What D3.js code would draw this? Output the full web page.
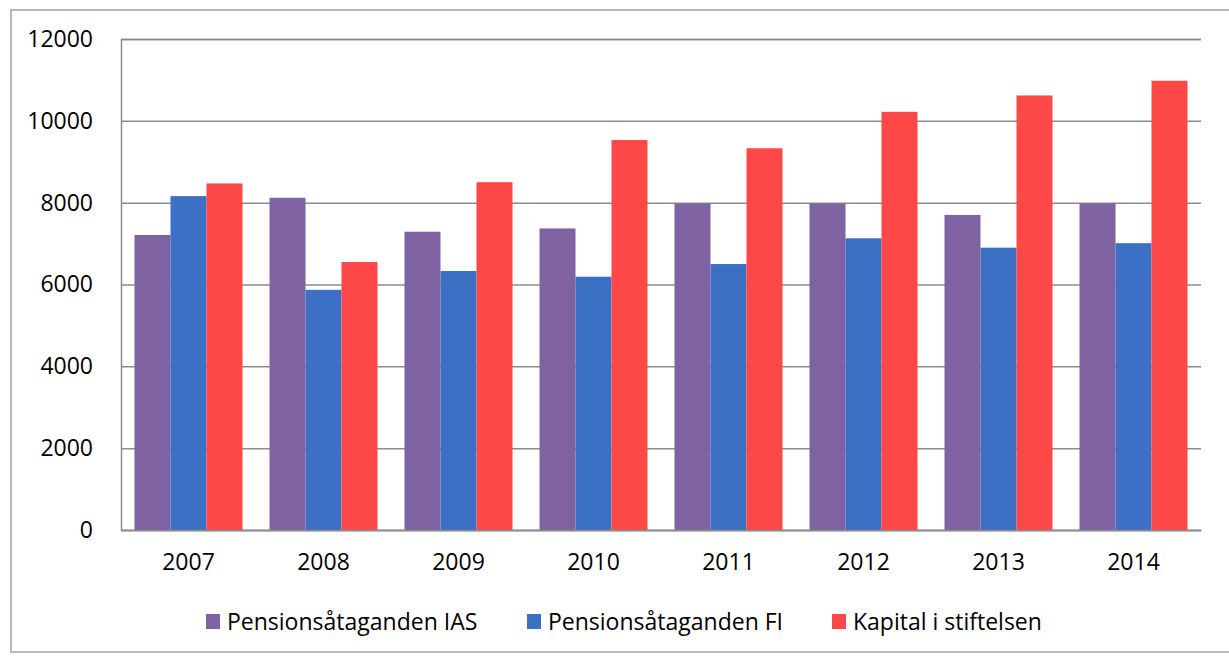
<!DOCTYPE html>
<html>
<head>
<meta charset="utf-8">
<script src="https://cdn.jsdelivr.net/npm/d3@7"></script>
<style>
  body { margin: 0; background: #ffffff; }
  svg { display: block; font-family: "Open Sans", "Noto Sans", sans-serif; }
</style>
</head>
<body>
<svg id="chart" width="1229" height="656"></svg>
<script>
//-----------------------------------------------------//

// Chart data
const years = ["2007", "2008", "2009", "2010", "2011", "2012", "2013", "2014"];
const seriesNames = ["Pensionsåtaganden IAS", "Pensionsåtaganden FI", "Kapital i stiftelsen"];
const iasValues = [7210, 8120, 7290, 7370, 7980, 7980, 7700, 7980];
const fiValues = [8160, 5870, 6330, 6190, 6500, 7130, 6900, 7010];
const kapitalValues = [8470, 6550, 8500, 9530, 9330, 10220, 10620, 10980];
const yTicks = [0, 2000, 4000, 6000, 8000, 10000, 12000];
const colors = ["#7e62a2", "#3c70c5", "#fe4848"];

//-----------------------------------------------------//

// Plot area (note: "top" is taken by window.top, so prefixed names)
let plotLeft = 121;
let plotRight = 1201;
let plotTop = 39;
let plotBottom = 530;
let fontSize = "23px";
let svg = null;

document.addEventListener("DOMContentLoaded", function()
{
  svg = d3.select("#chart");

  // Outer frame of the scanned chart
  svg.append("rect")
    .attr("x", 11).attr("y", 10)
    .attr("width", 1240).attr("height", 642)
    .attr("fill", "none")
    .attr("stroke", "#a0a0a0")
    .attr("stroke-width", 1.5);

  let x = d3.scaleBand()
    .domain(years)
    .range([plotLeft, plotRight])
    .paddingInner(0.2)
    .paddingOuter(0.1);

  let xSub = d3.scaleBand()
    .domain(seriesNames)
    .range([0, x.bandwidth()]);

  let y = d3.scaleLinear()
    .domain([0, 12000])
    .range([plotBottom, plotTop]);

  // Gridlines + y labels
  let yAxis = d3.axisLeft(y)
    .tickValues(yTicks)
    .tickSize(-(plotRight - plotLeft))
    .tickPadding(28)
    .tickFormat(d3.format("d"));

  let yg = svg.append("g")
    .attr("transform", `translate(${plotLeft},0)`)
    .call(yAxis);
  yg.select(".domain").attr("stroke", "#8c8c8c").attr("stroke-width", 1.5);
  yg.selectAll(".tick line").attr("stroke", "#8c8c8c").attr("stroke-width", 1.5);
  yg.selectAll(".tick text")
    .attr("fill", "#000")
    .style("font-size", fontSize)
    .style("font-family", "'Open Sans', sans-serif");

  // Bars, one group per year
  let table = years.map((yr, i) => ({
    year: yr,
    values: [iasValues[i], fiValues[i], kapitalValues[i]]
  }));

  let groups = svg.append("g").selectAll("g")
    .data(table)
    .enter().append("g")
    .attr("transform", d => `translate(${x(d.year)},0)`);

  groups.selectAll("rect")
    .data(d => d.values.map((v, k) => ({ name: seriesNames[k], value: v, k: k })))
    .enter().append("rect")
    .attr("x", d => xSub(d.name))
    .attr("y", d => y(d.value))
    .attr("width", xSub.bandwidth())
    .attr("height", d => plotBottom - y(d.value))
    .attr("fill", d => colors[d.k]);

  // x axis
  let xg = svg.append("g")
    .attr("transform", `translate(0,${plotBottom})`)
    .call(d3.axisBottom(x).tickSize(0).tickPadding(24));
  xg.select(".domain").attr("stroke", "#8c8c8c").attr("stroke-width", 1.5);
  xg.selectAll(".tick text")
    .attr("fill", "#000")
    .style("font-size", fontSize)
    .style("font-family", "'Open Sans', sans-serif");

  // Legend
  let legendX = [206, 527, 832];
  let legend = svg.append("g").selectAll("g")
    .data(seriesNames)
    .enter().append("g")
    .attr("transform", (d, i) => `translate(${legendX[i]},614)`);

  legend.append("rect")
    .attr("width", 14).attr("height", 15)
    .attr("fill", (d, i) => colors[i]);

  legend.append("text")
    .attr("x", 21)
    .attr("y", 8)
    .attr("dy", "0.35em")
    .attr("fill", "#000")
    .style("font-size", fontSize)
    .text(d => d);
});
</script>
</body>
</html>
